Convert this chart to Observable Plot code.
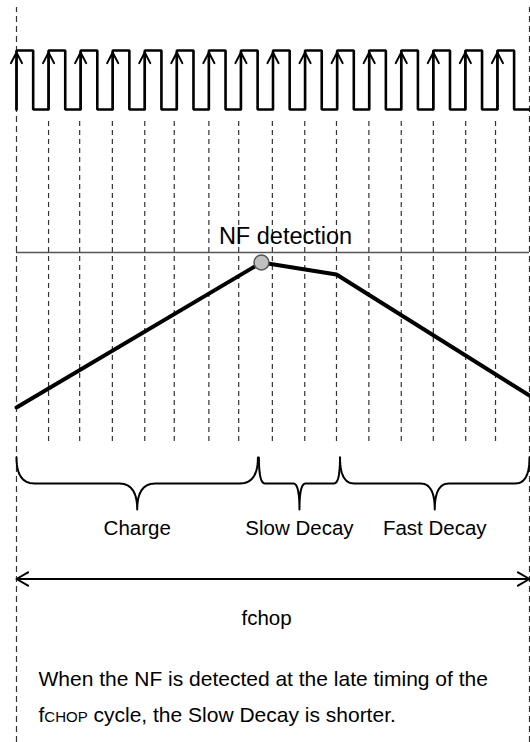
<!DOCTYPE html>
<html>
<head>
<meta charset="utf-8">
<script src="https://cdn.jsdelivr.net/npm/d3@7"></script>
<script src="https://cdn.jsdelivr.net/npm/@observablehq/plot@0.6"></script>
<style>
  html, body { margin: 0; padding: 0; background: #fff; }
  #chart svg { display: block; }
</style>
</head>
<body>
<div id="chart"></div>
<script>
// ---------------- DATA (time in chop-clock periods, level relative to NF threshold) ----------------
const clockRisingEdges = [0, 1, 2, 3, 4, 5, 6, 7, 8, 9, 10, 11, 12, 13, 14, 15];
const clockHighDuration = 0.52;
const cycleDividers = [1, 1.97, 2.99, 4, 4.92, 6, 6.93, 7.98, 8.99, 9.98, 10.99, 12, 13, 14.01, 14.94];
const cycleBounds = [0, 16];
const nfThreshold = 1.0;
const rampTimes  = [0, 7.64, 9.98, 16];
const rampLevels = [0.225, 0.95, 0.89, 0.285];
const detectionTime = 7.64;
const detectionLevel = 0.95;
const detectionLabel = "NF detection";
const phaseLabels = ["Charge", "Slow Decay", "Fast Decay"];
const phaseStarts = [0, 7.56, 10.09];
const phaseEnds   = [7.53, 10.09, 16];
const periodLabel = "fchop";
const captionLines = [
  "When the NF is detected at the late timing of the",
  "fCHOP cycle, the Slow Decay is shorter."
];

// ---------------- LAYOUT (vertical lanes, in the shared level unit) ----------------
const clockBase = 1.715, clockAmp = 0.295;
const clockLow = clockBase, clockHigh = clockBase + clockAmp;
const dividerTop = 1.66, dividerBottom = 0.055;
const boundsTop = 2.225, boundsBottom = -1.45;
const braceTop = -0.025, braceMid = -0.155, braceTip = -0.285;
const phaseLabelY = -0.4125;
const periodArrowY = -0.6325;
const periodLabelX = 7.8, periodLabelY = -0.86;
const captionX = 0.686, captionY = [-1.168, -1.345];
const detectLabelX = 8.39, detectLabelY = 1.045;
const FONT = "'Liberation Sans', Arial, Helvetica, sans-serif";

// clock waveform as step points
const clockPts = [{t: clockRisingEdges[0], v: clockLow}];
clockRisingEdges.forEach(r => {
  clockPts.push({t: r, v: clockHigh});
  clockPts.push({t: r + clockHighDuration, v: clockLow});
});
clockPts.push({t: cycleBounds[1], v: clockLow});

// ramp
const ramp = rampTimes.map((t, i) => ({t, v: rampLevels[i]}));

// braces sampled from quadratic curls
function quad(p0, c, p1, n) {
  const out = [];
  for (let i = 0; i <= n; i++) {
    const s = i / n;
    out.push({
      t: (1 - s) * (1 - s) * p0[0] + 2 * (1 - s) * s * c[0] + s * s * p1[0],
      v: (1 - s) * (1 - s) * p0[1] + 2 * (1 - s) * s * c[1] + s * s * p1[1]
    });
  }
  return out;
}
const bracePts = [];
phaseLabels.forEach((name, i) => {
  const x0 = phaseStarts[i], x1 = phaseEnds[i], xc = (x0 + x1) / 2;
  const r = 0.075 * (x1 - x0);
  const pts = [
    ...quad([x0, braceTop], [x0, braceMid], [x0 + r, braceMid], 14),
    ...quad([xc - r, braceMid], [xc, braceMid], [xc, braceTip], 14),
    ...quad([xc, braceTip], [xc, braceMid], [xc + r, braceMid], 14),
    ...quad([x1 - r, braceMid], [x1, braceMid], [x1, braceTop], 14)
  ];
  pts.forEach(p => bracePts.push({...p, phase: name}));
});
const phases = phaseLabels.map((name, i) => ({name, mid: (phaseStarts[i] + phaseEnds[i]) / 2}));

const chart = Plot.plot({
  width: 530,
  height: 742,
  marginLeft: 0, marginRight: 0, marginTop: 0, marginBottom: 0,
  x: {domain: cycleBounds, range: [16, 529], axis: null},
  y: {domain: [boundsBottom, 2.26], range: [742, 0], axis: null},
  style: {fontFamily: FONT, background: "white", color: "#000", overflow: "visible"},
  marks: [
    // outer cycle boundaries
    Plot.ruleX(cycleBounds, {x: d => d, y1: () => boundsBottom, y2: () => boundsTop,
      stroke: "#333", strokeWidth: 1.2, strokeDasharray: "6,4"}),
    // per-clock dividers
    Plot.ruleX(cycleDividers, {x: d => d, y1: () => dividerBottom, y2: () => dividerTop,
      stroke: "#333", strokeWidth: 1.2, strokeDasharray: "5,4"}),
    // NF threshold
    Plot.ruleY([nfThreshold], {y: d => d, x1: () => cycleBounds[0], x2: () => cycleBounds[1],
      stroke: "#555", strokeWidth: 1.3}),
    // clock waveform
    Plot.line(clockPts, {x: "t", y: "v", curve: "step-after", stroke: "#000", strokeWidth: 2.6,
      strokeLinejoin: "miter"}),
    Plot.arrow(clockRisingEdges, {x1: d => d, x2: d => d, y1: () => clockLow, y2: () => clockHigh,
      stroke: "#000", strokeWidth: 2, headLength: 9, headAngle: 55, insetEnd: 2}),
    // NF ramp
    Plot.line(ramp, {x: "t", y: "v", stroke: "#000", strokeWidth: 4, strokeLinejoin: "round"}),
    Plot.dot([{t: detectionTime, v: detectionLevel}], {x: "t", y: "v", r: 7.5,
      fill: "#c0c0c0", stroke: "#555", strokeWidth: 1.5}),
    Plot.text([detectionLabel], {x: () => detectLabelX, y: () => detectLabelY, text: d => d,
      fontSize: 23.5, lineAnchor: "bottom", textAnchor: "middle", fill: "#000"}),
    // braces
    Plot.line(bracePts, {x: "t", y: "v", z: "phase", stroke: "#000", strokeWidth: 2, curve: "linear"}),
    Plot.text(phases, {x: "mid", y: () => phaseLabelY, text: "name", fontSize: 20.5,
      lineAnchor: "bottom", textAnchor: "middle", fill: "#000"}),
    // period arrow
    Plot.arrow([cycleBounds[0], cycleBounds[1]], {
      x1: () => (cycleBounds[0] + cycleBounds[1]) / 2, x2: d => d,
      y1: () => periodArrowY, y2: () => periodArrowY,
      stroke: "#000", strokeWidth: 2, headLength: 10, headAngle: 60}),
    Plot.text([periodLabel], {x: () => periodLabelX, y: () => periodLabelY, text: d => d,
      fontSize: 20.5, lineAnchor: "bottom", textAnchor: "middle", fill: "#000"}),
    // caption
    Plot.text(captionLines, {x: () => captionX, y: (d, i) => captionY[i], text: d => d,
      fontSize: 21, lineAnchor: "bottom", textAnchor: "start", fill: "#000"})
  ]
});

// render fCHOP with a reduced-size "CHOP"
chart.querySelectorAll("text").forEach(t => {
  const s = t.textContent;
  if (s.startsWith("fCHOP")) {
    while (t.firstChild) t.removeChild(t.firstChild);
    const ns = "http://www.w3.org/2000/svg";
    const a = document.createElementNS(ns, "tspan"); a.textContent = "f";
    const b = document.createElementNS(ns, "tspan"); b.textContent = "CHOP"; b.setAttribute("font-size", "15");
    const c = document.createElementNS(ns, "tspan"); c.textContent = s.slice(5);
    t.append(a, b, c);
  }
});

document.getElementById("chart").append(chart);
</script>
</body>
</html>
